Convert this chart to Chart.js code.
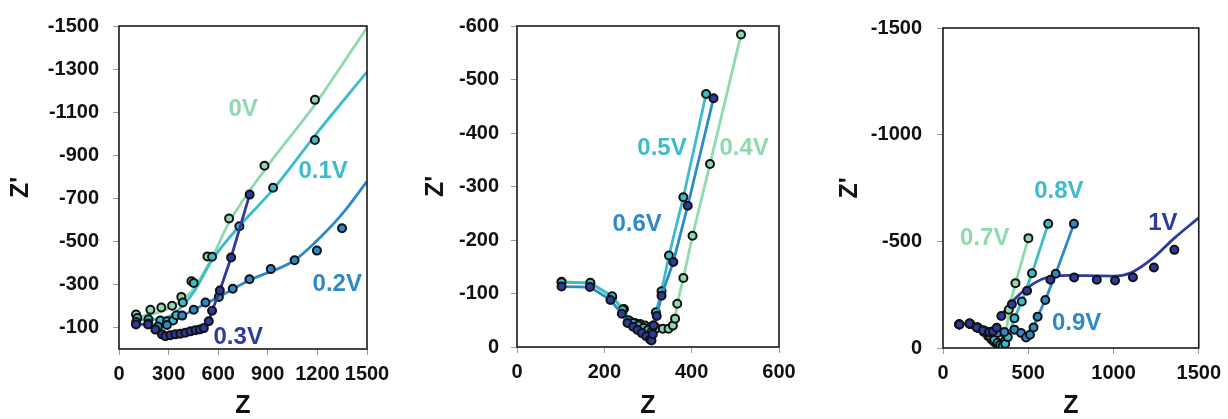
<!DOCTYPE html>
<html>
<head>
<meta charset="utf-8">
<script src="https://cdn.jsdelivr.net/npm/chart.js@4.4.1/dist/chart.umd.min.js"></script>
<style>
  html, body { margin: 0; padding: 0; background: #fff; width: 1228px; height: 419px; overflow: hidden; }
  canvas { position: absolute; top: 0; }
</style>
</head>
<body>
<canvas id="c1" width="400" height="419" style="left:0px"></canvas>
<canvas id="c2" width="400" height="419" style="left:420px"></canvas>
<canvas id="c3" width="398" height="419" style="left:830px"></canvas>
<script>
// ---- Impedance data: [Z, Z'] pairs (Z' is negative) ----

// Panel 1: 0V - 0.3V
const pts0V  = [[103,-160],[190,-182],[256,-193],[321,-201],[377,-242],[438,-315],[535,-430],[666,-606],[880,-851],[1185,-1157]];
const fit0V  = [[107,-147],[289,-185],[440,-269],[560,-420],[666,-588],[880,-831],[1185,-1135],[1500,-1493]];
const pts01V = [[111,-144],[178,-138],[250,-132],[291,-129],[327,-132],[347,-157],[386,-216],[452,-307],[563,-428],[728,-570],[932,-749],[1185,-971]];
const fit01V = [[111,-135],[250,-140],[329,-163],[456,-269],[560,-410],[727,-570],[931,-740],[1185,-991],[1500,-1287]];
const pts02V = [[104,-125],[178,-118],[236,-104],[290,-112],[382,-155],[452,-182],[523,-216],[604,-242],[688,-280],[789,-324],[918,-371],[1062,-412],[1197,-457],[1349,-561]];
const fit02V = [[250,-112],[361,-144],[450,-181],[600,-240],[791,-320],[1058,-410],[1185,-494],[1349,-626],[1500,-778]];
const pts03V = [[103,-114],[176,-114],[220,-90],[260,-68],[281,-59],[311,-64],[341,-68],[371,-71],[402,-76],[432,-82],[462,-87],[489,-91],[513,-97],[543,-129],[563,-178],[610,-272],[678,-425],[790,-717]];

// Panel 2: 0.4V - 0.6V
const pts04V = [[102,-122],[168,-119],[218,-93],[245,-71],[259,-48],[270,-45],[282,-43],[293,-40],[305,-37],[320,-35],[334,-34],[347,-34],[357,-40],[362,-53],[367,-81],[381,-129],[402,-208],[442,-342],[513,-584]];
const pts05V = [[102,-121],[168,-120],[218,-95],[242,-70],[255,-50],[266,-45],[278,-40],[290,-36],[300,-32],[308,-28],[312,-40],[318,-65],[331,-104],[348,-171],[381,-280],[433,-473]];
const pts06V = [[102,-113],[167,-112],[214,-88],[240,-62],[253,-45],[266,-38],[276,-32],[286,-26],[296,-20],[305,-14],[308,-12],[311,-24],[313,-40],[320,-58],[331,-96],[358,-159],[391,-264],[450,-465]];

// Panel 3: 0.7V - 1V
const pts07V = [[95,-110],[160,-112],[205,-95],[240,-75],[265,-55],[285,-40],[300,-28],[315,-20],[330,-12],[340,-8],[350,-15],[360,-30],[370,-60],[386,-179],[425,-304],[501,-515]];
const pts08V = [[95,-110],[158,-114],[203,-96],[245,-78],[275,-58],[300,-40],[320,-25],[335,-15],[350,-10],[365,-20],[380,-51],[419,-140],[462,-218],[522,-350],[617,-582]];
const pts09V = [[95,-111],[156,-115],[200,-96],[240,-82],[280,-70],[320,-70],[360,-75],[419,-86],[458,-70],[487,-49],[510,-62],[531,-96],[555,-147],[600,-225],[661,-348],[768,-582]];
const pts1V  = [[96,-110],[155,-115],[198,-96],[235,-82],[270,-75],[293,-78],[315,-95],[342,-150],[404,-205],[493,-268],[630,-320],[769,-331],[902,-320],[1009,-316],[1114,-332],[1237,-377],[1357,-460]];
const fit1V  = [[330,-140],[400,-211],[500,-285],[600,-328],[740,-340],[900,-338],[1009,-337],[1106,-354],[1231,-421],[1357,-515],[1500,-610]];

// Tick values
const p1XTicks = [0, 300, 600, 900, 1200, 1500];
const p1YTicks = [-100, -300, -500, -700, -900, -1100, -1300, -1500];
const p2XTicks = [0, 200, 400, 600];
const p2YTicks = [0, -100, -200, -300, -400, -500, -600];
const p3XTicks = [0, 500, 1000, 1500];
const p3YTicks = [0, -500, -1000, -1500];

// Series names
const names1 = ['0V', '0.1V', '0.2V', '0.3V'];
const names2 = ['0.4V', '0.5V', '0.6V'];
const names3 = ['0.7V', '0.8V', '0.9V', '1V'];

// ---- Styling ----
const GREEN = '#8fd9ae';
const CYAN  = '#3cbccb';
const BLUE  = '#2e8ac6';
const NAVY  = '#2e3b9e';
const FONT  = '"Liberation Sans", Arial, sans-serif';

const toXY = arr => arr.map(([x, y]) => ({ x, y }));

function markers(arr, fill, order, showLine, lineColor) {
  return {
    data: toXY(arr),
    showLine: !!showLine,
    borderColor: lineColor || fill,
    borderWidth: 2.8,
    tension: 0,
    pointRadius: 4,
    pointBackgroundColor: fill,
    pointBorderColor: '#111',
    pointBorderWidth: 2,
    order
  };
}

function curve(arr, color, order) {
  return {
    data: toXY(arr),
    showLine: true,
    borderColor: color,
    borderWidth: 2.8,
    cubicInterpolationMode: 'monotone',
    pointRadius: 0,
    order
  };
}

// Draws the plot frame and the colored series names
const framePlugin = {
  id: 'frame',
  afterDatasetsDraw(chart, args, opts) {
    const { ctx, chartArea: a, scales } = chart;
    ctx.save();
    ctx.strokeStyle = '#1a1a1a';
    ctx.lineWidth = 1.6;
    ctx.strokeRect(a.left, a.top, a.right - a.left, a.bottom - a.top);
    ctx.font = 'bold 24px ' + FONT;
    ctx.textAlign = 'center';
    ctx.textBaseline = 'middle';
    (opts.labels || []).forEach(l => {
      ctx.fillStyle = l.color;
      ctx.fillText(l.text, scales.x.getPixelForValue(l.x), scales.y.getPixelForValue(l.y));
    });
    ctx.restore();
  }
};

function makePanel(id, cfg) {
  const tickFont = { family: FONT, size: 20, weight: 'bold' };
  const titleFont = { family: FONT, size: 25, weight: 'bold', lineHeight: 1 };
  return new Chart(document.getElementById(id), {
    type: 'scatter',
    data: { datasets: cfg.datasets },
    options: {
      responsive: false,
      animation: false,
      devicePixelRatio: 1,
      layout: { padding: { top: cfg.padTop, right: cfg.padRight, bottom: 0, left: 0 } },
      plugins: {
        legend: { display: false },
        tooltip: { enabled: false },
        frame: { labels: cfg.labels }
      },
      scales: {
        x: {
          type: 'linear',
          min: 0, max: cfg.xMax,
          afterBuildTicks: ax => { ax.ticks = cfg.xTicks.map(v => ({ value: v })); },
          afterFit: ax => { ax.height = cfg.xAxisH; },
          ticks: { font: tickFont, color: '#111', padding: 7, maxRotation: 0, autoSkip: false,
                   callback: v => String(v) },
          grid: { display: true, drawOnChartArea: false, drawTicks: true, tickLength: 6, color: '#9a9a9a', lineWidth: 1 },
          border: { display: false },
          title: { display: true, text: 'Z', font: titleFont, color: '#111', padding: { top: 0, bottom: 0 } }
        },
        y: {
          type: 'linear',
          reverse: true,
          min: cfg.yMin, max: 0,
          afterBuildTicks: ax => { ax.ticks = cfg.yTicks.map(v => ({ value: v })); },
          afterFit: ax => { ax.width = cfg.yAxisW; },
          ticks: { font: tickFont, color: '#111', padding: cfg.yTickPad, autoSkip: false,
                   callback: v => String(v) },
          grid: { display: true, drawOnChartArea: false, drawTicks: true, tickLength: 6, color: '#9a9a9a', lineWidth: 1 },
          border: { display: false },
          title: { display: true, text: "Z'", font: titleFont, color: '#111', padding: { top: cfg.yTitlePad, bottom: 0 } }
        }
      }
    },
    plugins: [framePlugin]
  });
}

// Panel 1
makePanel('c1', {
  xMax: 1500, yMin: -1500, xTicks: p1XTicks, yTicks: p1YTicks,
  padTop: 20, padRight: 33, xAxisH: 70, yAxisW: 119, yTickPad: 14, yTitlePad: 9,
  datasets: [
    curve(fit0V, GREEN, 8),
    curve(fit01V, CYAN, 7),
    curve(fit02V, BLUE, 6),
    markers(pts0V, GREEN, 4),
    markers(pts01V, CYAN, 3),
    markers(pts02V, BLUE, 2),
    markers(pts03V, NAVY, 1, true, NAVY)
  ],
  labels: [
    { text: names1[0], x: 751, y: -1112, color: GREEN },
    { text: names1[1], x: 1235, y: -825, color: CYAN },
    { text: names1[2], x: 1320, y: -301, color: BLUE },
    { text: names1[3], x: 721, y: -55, color: NAVY }
  ]
});

// Panel 2
makePanel('c2', {
  xMax: 600, yMin: -600, xTicks: p2XTicks, yTicks: p2YTicks,
  padTop: 26, padRight: 41, xAxisH: 72, yAxisW: 97, yTickPad: 12, yTitlePad: 4,
  datasets: [
    markers(pts04V, GREEN, 3, true, GREEN),
    markers(pts05V, CYAN, 2, true, CYAN),
    markers(pts06V, NAVY, 1, true, BLUE)
  ],
  labels: [
    { text: names2[1], x: 332, y: -372, color: CYAN },
    { text: names2[0], x: 520, y: -372, color: GREEN },
    { text: names2[2], x: 275, y: -230, color: BLUE }
  ]
});

// Panel 3
makePanel('c3', {
  xMax: 1500, yMin: -1500, xTicks: p3XTicks, yTicks: p3YTicks,
  padTop: 28, padRight: 27, xAxisH: 71, yAxisW: 113, yTickPad: 15, yTitlePad: 8,
  datasets: [
    curve(fit1V, NAVY, 9),
    markers(pts07V, GREEN, 4, true, GREEN),
    markers(pts08V, CYAN, 3, true, CYAN),
    markers(pts09V, BLUE, 2, true, BLUE),
    markers(pts1V, NAVY, 1)
  ],
  labels: [
    { text: names3[0], x: 245, y: -516, color: GREEN },
    { text: names3[1], x: 680, y: -736, color: CYAN },
    { text: names3[3], x: 1290, y: -582, color: NAVY },
    { text: names3[2], x: 784, y: -114, color: BLUE }
  ]
});
</script>
</body>
</html>
